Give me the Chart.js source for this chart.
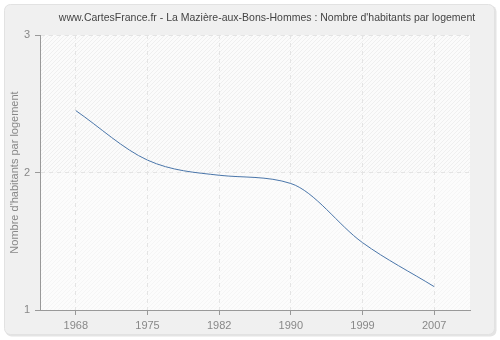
<!DOCTYPE html>
<html lang="fr">
<head>
<meta charset="utf-8">
<title>Nombre d'habitants par logement</title>
<script src="https://cdn.jsdelivr.net/npm/chart.js"></script>
<style>
  html, body { margin: 0; padding: 0; background: #ffffff; }
  #wrap { width: 500px; height: 340px; position: relative; }
</style>
</head>
<body>
<div id="wrap"><canvas id="myChart" width="500" height="340"></canvas></div>
<script>
// annees du recensement et valeurs
const years = ['1968', '1975', '1982', '1990', '1999', '2007'];
const values = [2.45, 2.09, 1.98, 1.92, 1.49, 1.17];
const yTicks = [1, 2, 3];
const titleText = "www.CartesFrance.fr - La Mazière-aux-Bons-Hommes : Nombre d'habitants par logement";
const yTitle = "Nombre d'habitants par logement";
const police = '"Liberation Sans", Arial, sans-serif';

function hatch(bg, line) {
  const c = document.createElement('canvas');
  c.width = 4; c.height = 4;
  const g = c.getContext('2d');
  g.fillStyle = bg;
  g.fillRect(0, 0, 4, 4);
  g.strokeStyle = line;
  g.lineWidth = 1;
  g.beginPath();
  g.moveTo(0, 4); g.lineTo(4, 0);
  g.moveTo(-1, 1); g.lineTo(1, -1);
  g.moveTo(3, 5); g.lineTo(5, 3);
  g.stroke();
  return g.createPattern(c, 'repeat');
}

// fond gris arrondi + zone hachuree
const fond = {
  id: 'fond',
  beforeDraw(chart) {
    const ctx = chart.ctx;
    const a = chart.chartArea;
    ctx.save();
    ctx.fillStyle = '#ffffff';
    ctx.fillRect(0, 0, chart.width, chart.height);
    ctx.fillStyle = '#e4e4e4';
    ctx.beginPath();
    ctx.roundRect(5.5, 5.5, 491, 331, 6);
    ctx.fill();
    ctx.fillStyle = '#f0f0f0';
    ctx.strokeStyle = '#e2e2e2';
    ctx.beginPath();
    ctx.roundRect(4.5, 4.5, 490, 330, 6);
    ctx.fill();
    ctx.stroke();
    const yMid = chart.scales.y.getPixelForValue(2);
    ctx.fillStyle = hatch('#fbfbfb', '#efefef');
    ctx.fillRect(a.left, a.top, a.right - a.left, yMid - a.top);
    ctx.fillStyle = hatch('#fcfcfc', '#f5f5f5');
    ctx.fillRect(a.left, yMid, a.right - a.left, a.bottom - yMid);
    ctx.restore();
  },
  afterDraw(chart) {
    const ctx = chart.ctx;
    ctx.save();
    ctx.font = '10.5px ' + police;
    ctx.fillStyle = '#444444';
    ctx.textAlign = 'center';
    ctx.textBaseline = 'middle';
    ctx.fillText(titleText, 267, 18);
    ctx.restore();
  }
};

const ctx = document.getElementById('myChart').getContext('2d');
const myChart = new Chart(ctx, {
  type: 'line',
  data: {
    labels: years,
    datasets: [{
      data: values,
      borderColor: '#4a76aa',
      borderWidth: 1,
      pointRadius: 0,
      fill: false,
      cubicInterpolationMode: 'monotone'
    }]
  },
  options: {
    responsive: false,
    animation: false,
    layout: { padding: { left: 8, right: 30, top: 35, bottom: 0 } },
    plugins: {
      legend: { display: false },
      title: { display: false },
      tooltip: { enabled: false }
    },
    scales: {
      x: {
        offset: true,
        grid: {
          offset: false,
          color: '#e4e4e4',
          tickColor: '#999999',
          tickLength: 5,
          tickBorderDash: []
        },
        border: { color: '#999999', dash: [4, 4] },
        ticks: {
          color: '#888888',
          font: { family: police, size: 11 },
          padding: 4,
          maxRotation: 0
        },
        afterFit(s) { s.height = 30; }
      },
      y: {
        min: 1,
        max: 3,
        afterBuildTicks(s) { s.ticks = yTicks.map(v => ({ value: v })); },
        grid: {
          color: '#e4e4e4',
          tickColor: '#999999',
          tickLength: 5,
          tickBorderDash: []
        },
        border: { color: '#999999', dash: [4, 4] },
        ticks: {
          color: '#888888',
          font: { family: police, size: 11 },
          padding: 5
        },
        title: {
          display: true,
          text: yTitle,
          color: '#888888',
          font: { family: police, size: 11 },
          padding: { top: 0, bottom: 4 }
        },
        afterFit(s) { s.width = 32; }
      }
    }
  },
  plugins: [fond]
});
</script>
</body>
</html>
